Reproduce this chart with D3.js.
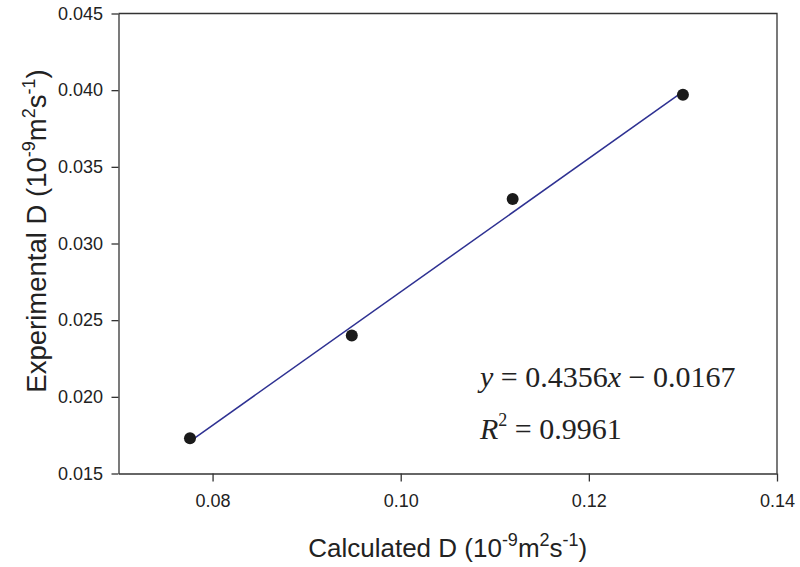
<!DOCTYPE html>
<html>
<head>
<meta charset="utf-8">
<script src="https://cdn.jsdelivr.net/npm/d3@7"></script>
<style>
  body { margin: 0; background: #fff; }
  .axis text { font-family: "Liberation Sans", Arial, sans-serif; font-size: 18px; fill: #222; }
  .axis path, .axis line { stroke: #333; stroke-width: 1.3; }
  .title { font-family: "Liberation Sans", Arial, sans-serif; font-size: 26px; fill: #222; }
  .eq { font-family: "Liberation Serif", "Times New Roman", serif; font-size: 30px; fill: #222; }
</style>
</head>
<body>
<div id="chart"></div>
<script>
// measured points
const calcD = [0.0776, 0.0948, 0.1119, 0.1300];
const expD = [0.0173, 0.0240, 0.0329, 0.0397];
// regression line ends (y = 0.4356x - 0.0167)
const fitX = [0.0776, 0.1300];
const fitY = [0.0171, 0.0399];
const xTicks = [0.08, 0.10, 0.12, 0.14];
const yTicks = [0.015, 0.020, 0.025, 0.030, 0.035, 0.040, 0.045];

const width = 800, height = 567;
const margin = {top: 13.5, right: 23, bottom: 93.5, left: 118.5};
const w = width - margin.left - margin.right;
const h = height - margin.top - margin.bottom;

const xScale = d3.scaleLinear().domain([0.07, 0.14]).range([0, w]);
const yScale = d3.scaleLinear().domain([0.015, 0.045]).range([h, 0]);

const svg = d3.select('#chart').append('svg')
    .attr('width', width)
    .attr('height', height);

const g = svg.append('g')
    .attr('transform', `translate(${margin.left},${margin.top})`);

// frame top + right
g.append('path')
    .attr('d', `M0,0H${w}V${h}`)
    .attr('fill', 'none')
    .attr('stroke', '#333')
    .attr('stroke-width', 1.3);

g.append('g')
    .attr('class', 'axis')
    .attr('transform', `translate(0,${h})`)
    .call(d3.axisBottom(xScale).tickValues(xTicks).tickSize(8).tickPadding(13)
      .tickSizeOuter(0).tickFormat(d3.format('.2f')));

g.append('g')
    .attr('class', 'axis')
    .call(d3.axisLeft(yScale).tickValues(yTicks).tickSize(7).tickPadding(8.5)
      .tickSizeOuter(0).tickFormat(d3.format('.3f')));

const line = d3.line()
    .x(d => xScale(d[0]))
    .y(d => yScale(d[1]));

g.append('path')
    .attr('d', line(fitX.map((x, i) => [x, fitY[i]])))
    .attr('fill', 'none')
    .attr('stroke', '#2e3192')
    .attr('stroke-width', 1.5);

g.selectAll('circle')
    .data(calcD)
    .enter().append('circle')
    .attr('cx', d => xScale(d))
    .attr('cy', (d, i) => yScale(expD[i]))
    .attr('r', 6)
    .attr('fill', '#1a1a1a');

// axis titles with superscripts
const addTitle = (sel, name) => {
  sel.append('tspan').text(name + ' (10');
  sel.append('tspan').attr('dy', -11).attr('font-size', 18).text('-9');
  sel.append('tspan').attr('dy', 11).text('m');
  sel.append('tspan').attr('dy', -11).attr('font-size', 18).text('2');
  sel.append('tspan').attr('dy', 11).text('s');
  sel.append('tspan').attr('dy', -11).attr('font-size', 18).text('-1');
  sel.append('tspan').attr('dy', 11).text(')');
};

const xt = svg.append('text')
    .attr('class', 'title')
    .attr('text-anchor', 'middle')
    .attr('x', margin.left + w / 2)
    .attr('y', 557);
addTitle(xt, 'Calculated D');

const yt = svg.append('text')
    .attr('class', 'title')
    .attr('text-anchor', 'middle')
    .style('font-size', '27.5px')
    .attr('transform', `translate(46,231) rotate(-90)`);
addTitle(yt, 'Experimental D');

// equation
const eq1 = svg.append('text').attr('class', 'eq').attr('x', 480).attr('y', 387);
eq1.append('tspan').attr('font-style', 'italic').text('y');
eq1.append('tspan').text(' = 0.4356');
eq1.append('tspan').attr('font-style', 'italic').text('x');
eq1.append('tspan').text(' \u2212 0.0167');

const eq2 = svg.append('text').attr('class', 'eq').attr('x', 480).attr('y', 439);
eq2.append('tspan').attr('font-style', 'italic').text('R');
eq2.append('tspan').attr('dy', -13).attr('font-size', 18).text('2');
eq2.append('tspan').attr('dy', 13).text(' = 0.9961');
</script>
</body>
</html>
